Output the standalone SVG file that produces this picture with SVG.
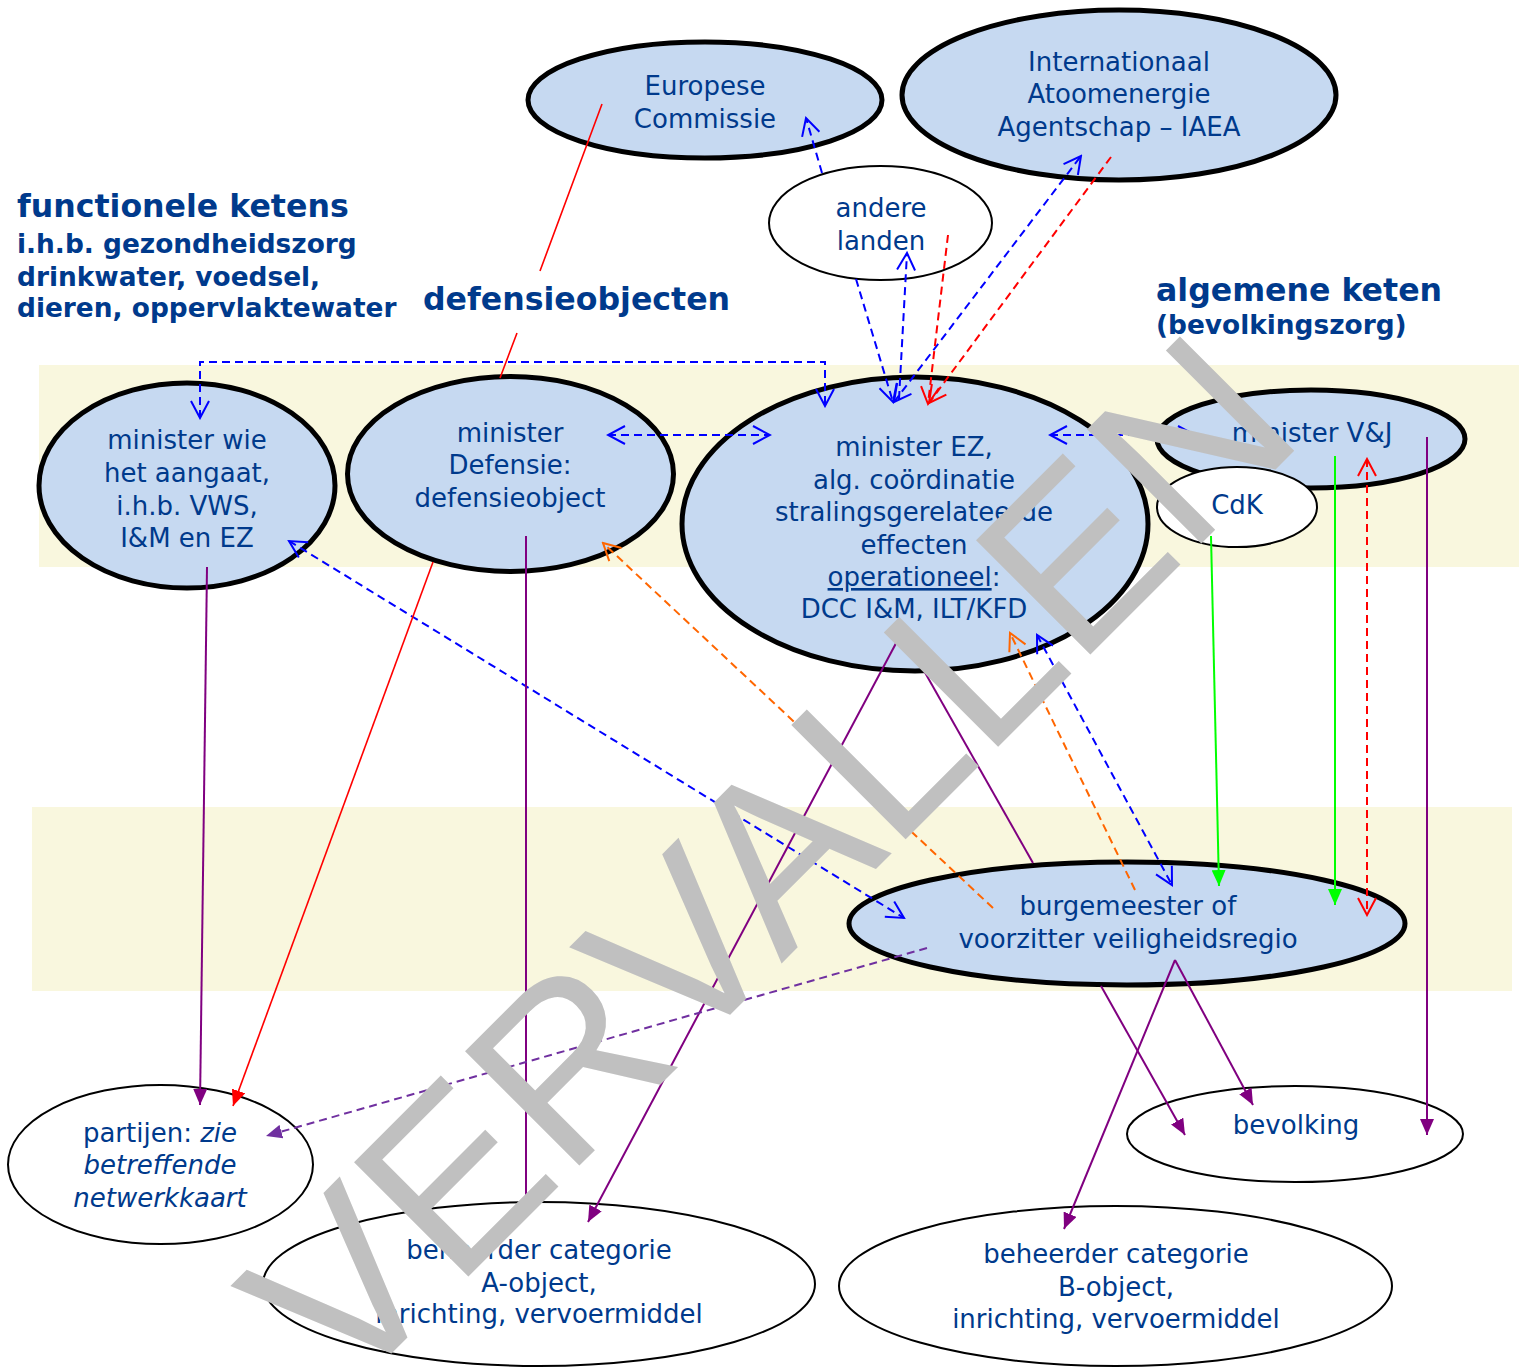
<svg xmlns="http://www.w3.org/2000/svg" width="1530" height="1367" viewBox="0 0 1530 1367">
<style>
.band{fill:#F9F7DE}
.node{fill:#C6D9F1;stroke:#000;stroke-width:5}
.wnode{fill:#fff;stroke:#000;stroke-width:2}
.t{font-family:"DejaVu Sans",Verdana,sans-serif;font-size:26px;fill:#003A8C;text-anchor:middle}
.h1{font-family:"DejaVu Sans",Verdana,sans-serif;font-weight:bold;font-size:31.6px;fill:#003A8C}
.h2{font-family:"DejaVu Sans",Verdana,sans-serif;font-weight:bold;font-size:26.4px;fill:#003A8C}
.c{fill:none;stroke-width:2}
.bd{stroke:#0000FF;stroke-dasharray:8 5}
.rd{stroke:#FF0000;stroke-dasharray:8 5}
.od{stroke:#FF6600;stroke-dasharray:8 5}
.pd{stroke:#7030A0;stroke-dasharray:8 5}
.p{stroke:#800080}
.g{stroke:#00FF00}
.r{stroke:#FF0000;stroke-width:1.6}
.wm{font-family:"Liberation Sans",Arial,sans-serif;font-size:235px;fill:#C0C0C0}
</style>
<defs>
<marker id="ob" viewBox="0 0 20 20" refX="18" refY="10" markerWidth="20" markerHeight="20" markerUnits="userSpaceOnUse" orient="auto-start-reverse"><path d="M1,1 L18,10 L1,19" fill="none" stroke="#0000FF" stroke-width="2"/></marker>
<marker id="or" viewBox="0 0 20 20" refX="18" refY="10" markerWidth="20" markerHeight="20" markerUnits="userSpaceOnUse" orient="auto-start-reverse"><path d="M1,1 L18,10 L1,19" fill="none" stroke="#FF0000" stroke-width="2"/></marker>
<marker id="oo" viewBox="0 0 20 20" refX="18" refY="10" markerWidth="20" markerHeight="20" markerUnits="userSpaceOnUse" orient="auto-start-reverse"><path d="M1,1 L18,10 L1,19" fill="none" stroke="#FF6600" stroke-width="2"/></marker>
<marker id="fp" viewBox="0 0 16 14" refX="16" refY="7" markerWidth="16" markerHeight="14" markerUnits="userSpaceOnUse" orient="auto"><path d="M0,0 L16,7 L0,14 z" fill="#800080"/></marker>
<marker id="fpd" viewBox="0 0 16 14" refX="16" refY="7" markerWidth="16" markerHeight="14" markerUnits="userSpaceOnUse" orient="auto"><path d="M0,0 L16,7 L0,14 z" fill="#7030A0"/></marker>
<marker id="fg" viewBox="0 0 16 14" refX="16" refY="7" markerWidth="16" markerHeight="14" markerUnits="userSpaceOnUse" orient="auto"><path d="M0,0 L16,7 L0,14 z" fill="#00FF00"/></marker>
<marker id="fr" viewBox="0 0 16 14" refX="16" refY="7" markerWidth="16" markerHeight="14" markerUnits="userSpaceOnUse" orient="auto"><path d="M0,0 L16,7 L0,14 z" fill="#FF0000"/></marker>
</defs>
<rect width="1530" height="1367" fill="#fff"/>
<g id="bands">
<rect class="band" x="39" y="365" width="1480" height="202"/>
<rect class="band" x="32" y="807" width="1480" height="184"/>
</g>
<g id="headings">
<text class="h1" x="17" y="217">functionele ketens</text>
<text class="h2" x="17" y="253">i.h.b. gezondheidszorg</text>
<text class="h2" x="17" y="286">drinkwater, voedsel,</text>
<text class="h2" x="17" y="317">dieren, oppervlaktewater</text>
<text class="h1" x="423" y="310">defensieobjecten</text>
<text class="h1" x="1156" y="301">algemene keten</text>
<text class="h2" x="1156" y="334">(bevolkingszorg)</text>
</g>
<g id="europese-commissie">
<ellipse class="node" cx="705" cy="100" rx="177" ry="58"/>
<text class="t" x="705" y="95">Europese</text>
<text class="t" x="705" y="128">Commissie</text>
</g>
<g id="iaea">
<ellipse class="node" cx="1119" cy="95" rx="217" ry="85"/>
<text class="t" x="1119" y="71">Internationaal</text>
<text class="t" x="1119" y="103">Atoomenergie</text>
<text class="t" x="1119" y="136">Agentschap – IAEA</text>
</g>
<g id="andere-landen">
<ellipse class="wnode" cx="880.5" cy="223" rx="111.5" ry="57"/>
<text class="t" x="881" y="217">andere</text>
<text class="t" x="881" y="250">landen</text>
</g>
<g id="minister-wie">
<ellipse class="node" cx="187" cy="485.5" rx="148" ry="102.5"/>
<text class="t" x="187" y="449">minister wie</text>
<text class="t" x="187" y="482">het aangaat,</text>
<text class="t" x="187" y="514.5">i.h.b. VWS,</text>
<text class="t" x="187" y="547">I&amp;M en EZ</text>
</g>
<g id="minister-defensie">
<ellipse class="node" cx="510.5" cy="474" rx="163" ry="97.5"/>
<text class="t" x="510" y="442">minister</text>
<text class="t" x="510" y="474">Defensie:</text>
<text class="t" x="510" y="507">defensieobject</text>
</g>
<g id="minister-ez">
<ellipse class="node" cx="915" cy="524" rx="233" ry="147"/>
<text class="t" x="914" y="456">minister EZ,</text>
<text class="t" x="914" y="488.5">alg. coördinatie</text>
<text class="t" x="914" y="521">stralingsgerelateerde</text>
<text class="t" x="914" y="553.5">effecten</text>
<text class="t" x="914" y="586"><tspan text-decoration="underline">operationeel</tspan>:</text>
<text class="t" x="914" y="618">DCC I&amp;M, ILT/KFD</text>
</g>
<g id="minister-vj">
<ellipse class="node" cx="1311" cy="439" rx="154" ry="49"/>
<text class="t" x="1312" y="442">minister V&amp;J</text>
</g>
<g id="cdk">
<ellipse class="wnode" cx="1237" cy="507" rx="80" ry="40"/>
<text class="t" x="1237" y="514">CdK</text>
</g>
<g id="burgemeester">
<ellipse class="node" cx="1127" cy="923.5" rx="278" ry="61.5"/>
<text class="t" x="1128" y="915">burgemeester of</text>
<text class="t" x="1128" y="948">voorzitter veiligheidsregio</text>
</g>
<g id="partijen">
<ellipse class="wnode" cx="160.5" cy="1164.5" rx="152.5" ry="79.5"/>
<text class="t" x="160" y="1142">partijen: <tspan font-style="italic">zie</tspan></text>
<text class="t" x="160" y="1174" font-style="italic">betreffende</text>
<text class="t" x="160" y="1207" font-style="italic">netwerkkaart</text>
</g>
<g id="beheerder-a">
<ellipse class="wnode" cx="539" cy="1284" rx="276" ry="82"/>
<text class="t" x="539" y="1259">beheerder categorie</text>
<text class="t" x="539" y="1292">A-object,</text>
<text class="t" x="539" y="1323">inrichting, vervoermiddel</text>
</g>
<g id="beheerder-b">
<ellipse class="wnode" cx="1115.5" cy="1286" rx="276.5" ry="80"/>
<text class="t" x="1116" y="1263">beheerder categorie</text>
<text class="t" x="1116" y="1296">B-object,</text>
<text class="t" x="1116" y="1328">inrichting, vervoermiddel</text>
</g>
<g id="bevolking">
<ellipse class="wnode" cx="1295" cy="1134" rx="168" ry="48"/>
<text class="t" x="1296" y="1134">bevolking</text>
</g>
<g id="connectors">
<path class="c r" d="M602,104 L540,271 M517,333 L500,378"/>
<path class="c bd" d="M822,173 L806,118" marker-end="url(#ob)"/>
<path class="c bd" d="M856,279 L893,402" marker-end="url(#ob)"/>
<path class="c bd" d="M899,399 L907,253" marker-end="url(#ob)"/>
<path class="c bd" d="M894,402 L1081,156" marker-start="url(#ob)" marker-end="url(#ob)"/>
<path class="c rd" d="M948,235 L928,404" marker-end="url(#or)"/>
<path class="c rd" d="M1111,157 L929,403" marker-end="url(#or)"/>
<path class="c bd" d="M200,418 L200,362 L825,362 L825,406" marker-start="url(#ob)" marker-end="url(#ob)"/>
<path class="c bd" d="M608,435 L770,435" marker-start="url(#ob)" marker-end="url(#ob)"/>
<path class="c bd" d="M1050,435 L1195,435" marker-start="url(#ob)" marker-end="url(#ob)"/>
<path class="c bd" d="M289,541 L904,918" marker-start="url(#ob)" marker-end="url(#ob)"/>
<path class="c od" d="M993,908 L603,543" marker-end="url(#oo)"/>
<path class="c od" d="M1135,890 L1010,633" marker-end="url(#oo)"/>
<path class="c bd" d="M1037,635 L1172,885" marker-start="url(#ob)" marker-end="url(#ob)"/>
<path class="c g" d="M1211,536 L1219,886" marker-end="url(#fg)"/>
<path class="c g" d="M1335,456 L1335,905" marker-end="url(#fg)"/>
<path class="c rd" d="M1367,459 L1367,915" marker-start="url(#or)" marker-end="url(#or)"/>
<path class="c p" d="M1427,437 L1427,1135" marker-end="url(#fp)"/>
<path class="c p" d="M207,567 L200,1105" marker-end="url(#fp)"/>
<path class="c r" d="M433,562 L233,1106" marker-end="url(#fr)"/>
<path class="c p" d="M526,536 L526,1202"/>
<path class="c p" d="M902,632 L588,1222" marker-end="url(#fp)"/>
<path class="c p" d="M902,632 L1033,863"/>
<path class="c p" d="M1175,960 L1064,1229" marker-end="url(#fp)"/>
<path class="c p" d="M1175,960 L1253,1105" marker-end="url(#fp)"/>
<path class="c p" d="M1101,986 L1185,1135" marker-end="url(#fp)"/>
<path class="c pd" d="M927,948 L266,1136" marker-end="url(#fpd)"/>
</g>
<text class="wm" transform="translate(344,1401) rotate(-45)">VERVALLEN</text>
</svg>
